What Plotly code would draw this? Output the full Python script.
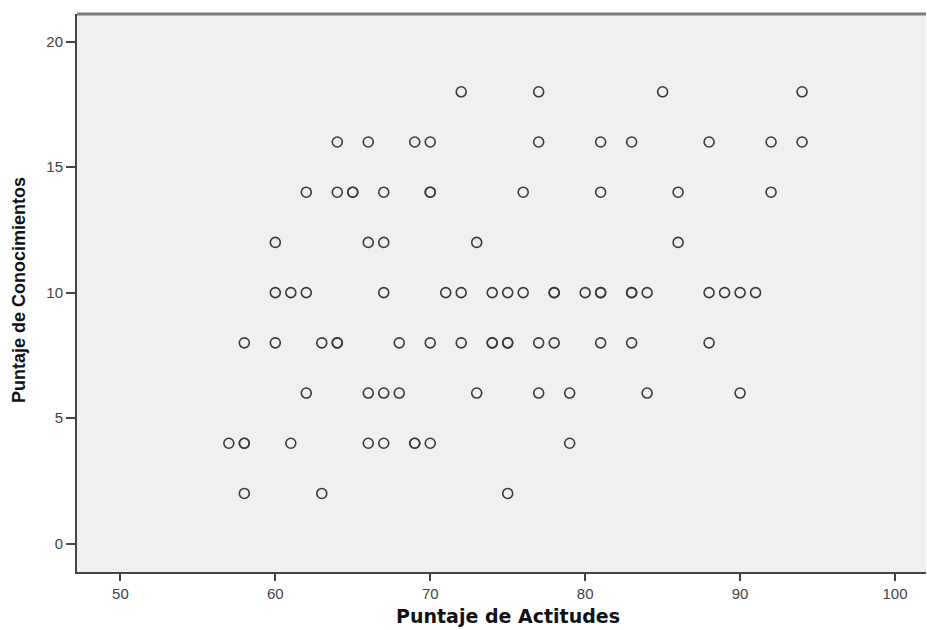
import plotly.graph_objects as go

# Puntaje de Actitudes (x) and Puntaje de Conocimientos (y)
actitudes = [
    72, 77, 85, 94,
    64, 66, 69, 70, 77, 81, 83, 88, 92, 94,
    62, 64, 65, 65, 67, 70, 70, 76, 81, 86, 92,
    60, 66, 67, 73, 86,
    60, 61, 62, 67, 71, 72, 74, 75, 76, 78, 78, 80, 81, 81, 83, 83, 84, 88, 89, 90, 91,
    58, 60, 63, 64, 64, 68, 70, 72, 74, 74, 75, 75, 77, 78, 81, 83, 88,
    62, 66, 67, 68, 73, 77, 79, 84, 90,
    57, 58, 58, 61, 66, 67, 69, 69, 70, 79,
    58, 63, 75,
]
conocimientos = (
    [18] * 4 + [16] * 10 + [14] * 11 + [12] * 5 + [10] * 21
    + [8] * 17 + [6] * 9 + [4] * 10 + [2] * 3
)

x_ticks = [50, 60, 70, 80, 90, 100]
y_ticks = [0, 5, 10, 15, 20]
x_title = "Puntaje de Actitudes"
y_title = "Puntaje de Conocimientos"

W, H = 927, 630
ML, MR, MT, MB = 77, 1, 14, 58
PW, PH = W - ML - MR, H - MT - MB

fig = go.Figure(
    go.Scatter(
        x=actitudes,
        y=conocimientos,
        mode="markers",
        marker=dict(symbol="circle-open", size=10,
                    line=dict(width=1.6, color="#3a3a3a"), color="#3a3a3a"),
        hoverinfo="x+y",
    )
)

fig.update_layout(
    width=W,
    height=H,
    margin=dict(l=ML, r=MR, t=MT, b=MB),
    paper_bgcolor="white",
    plot_bgcolor="#f0f0f0",
    showlegend=False,
    font=dict(family="Liberation Sans, Arial, sans-serif", size=12, color="#444"),
)

common = dict(
    ticks="outside",
    tickwidth=2,
    tickcolor="#444",
    showgrid=False,
    zeroline=False,
    showline=True,
    linecolor="#444",
    linewidth=2,
    automargin=False,
    tickfont=dict(size=15, color="#444"),
)
fig.update_xaxes(range=[47.2, 102.0], tickvals=x_ticks, ticklen=7, **common)
fig.update_yaxes(range=[-1.13, 21.1], tickvals=y_ticks, ticklen=9, **common)

# axis titles placed as annotations at the reference's pixel positions
fig.add_annotation(
    text=x_title, xref="paper", yref="paper",
    x=(508 - ML) / PW, y=-(616 - (MT + PH)) / PH,
    xanchor="center", yanchor="middle", showarrow=False,
    font=dict(family="DejaVu Sans, Verdana, sans-serif", size=19, color="#111", weight="bold"),
)
fig.add_annotation(
    text=y_title, xref="paper", yref="paper",
    x=(19 - ML) / PW, y=1 - (290 - MT) / PH,
    xanchor="center", yanchor="middle", textangle=-90, showarrow=False,
    font=dict(family="Liberation Sans, Arial, sans-serif", size=18, color="#111", weight="bold"),
)

fig.add_shape(type="line", xref="paper", yref="paper", x0=0, x1=1, y0=1, y1=1,
              line=dict(color="#7a7a7a", width=3))

fig.write_html(
    "out.html",
    config={"displayModeBar": False},
    post_script="document.body.style.margin='0';document.body.style.overflow='hidden';",
)
